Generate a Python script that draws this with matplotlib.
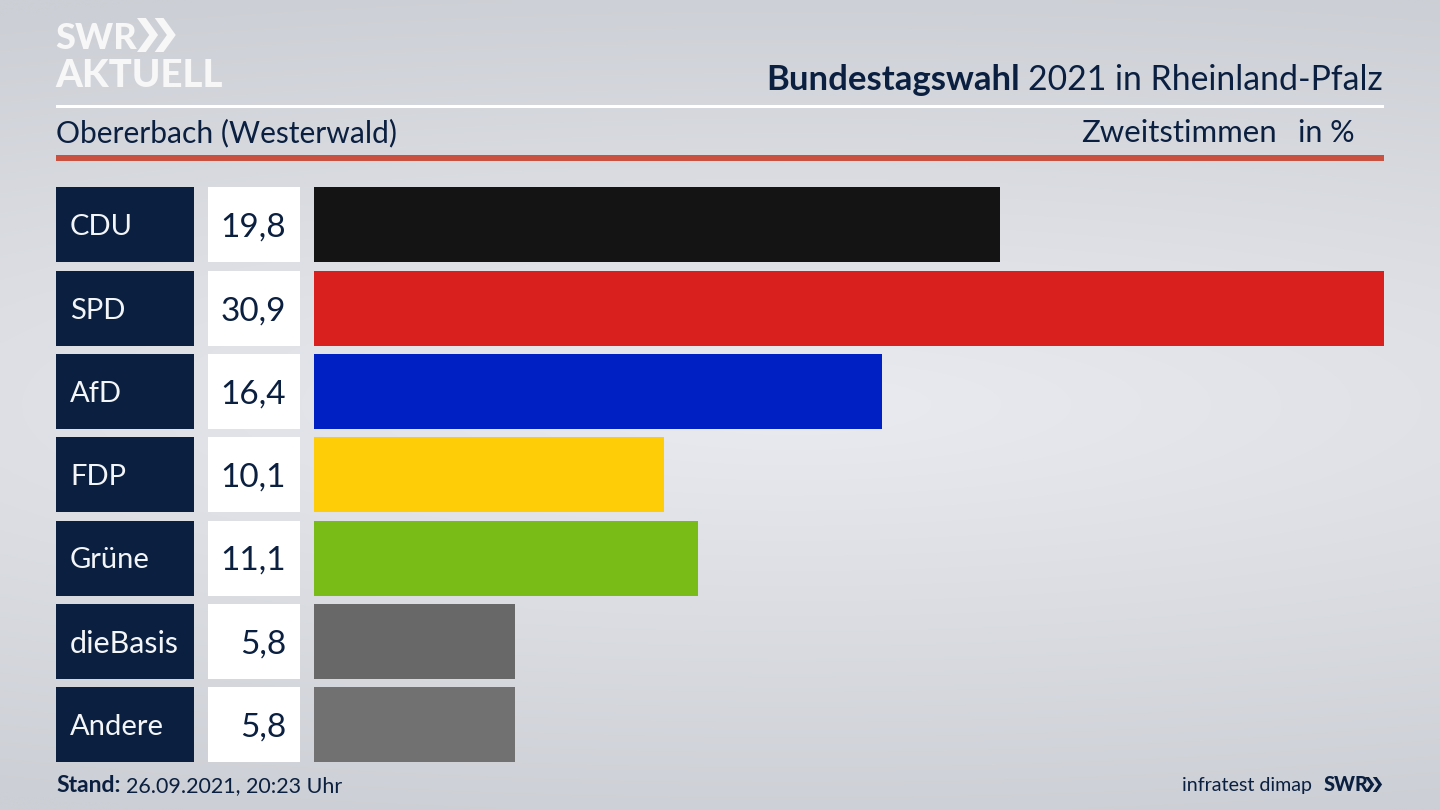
import matplotlib
matplotlib.use('Agg')
import matplotlib.pyplot as plt
import numpy as np
from matplotlib.patches import Rectangle, Polygon

parties = ['CDU', 'SPD', 'AfD', 'FDP', 'Grüne', 'dieBasis', 'Andere']
values = [19.8, 30.9, 16.4, 10.1, 11.1, 5.8, 5.8]
value_labels = ['19,8', '30,9', '16,4', '10,1', '11,1', '5,8', '5,8']
colors = ['#141414', '#d9201f', '#0020c4', '#ffcc08', '#79bc18', '#686868', '#717172']

navy = '#0b2040'
plt.rcParams['font.family'] = ['Lato', 'DejaVu Sans']

W, H = 1440, 810
fig = plt.figure(figsize=(14.4, 8.1), dpi=100)

# background, pixel coordinates
bg = fig.add_axes([0, 0, 1, 1])
bg.set_xlim(0, W)
bg.set_ylim(H, 0)
bg.axis('off')
yy, xx = np.mgrid[0:1:160j, 0:1:280j]
dist = np.sqrt(((xx - 0.55) / 1.3) ** 2 + ((yy - 0.5) / 0.5) ** 2)
shade = np.clip(dist, 0, 1.05) / 1.05
bg_img = np.zeros(shade.shape + (3,))
for i, (light, dark) in enumerate([(234, 204), (235, 207), (240, 213)]):
    bg_img[..., i] = (light + (dark - light) * shade) / 255
bg.imshow(bg_img, extent=(0, W, H, 0), aspect='auto', interpolation='bilinear', zorder=0)

# header
bg.add_patch(Rectangle((56, 104.5), 1328, 3, color='white', lw=0))
bg.add_patch(Rectangle((56, 155), 1328, 5.5, color='#c9513f', lw=0))


def chevrons(x, y, h, color):
    w = h * 0.36
    t = h * 0.26
    for off in (0, t * 2.0):
        bg.add_patch(Polygon([(x + off, y), (x + off + t, y), (x + off + t + w, y + h / 2),
                              (x + off + t, y + h), (x + off, y + h),
                              (x + off + w, y + h / 2)], color=color, lw=0))


bg.text(55, 49, 'SWR', color='#f7f7f8', fontsize=26, fontweight='black', va='baseline')
chevrons(137, 18, 34, '#f7f7f8')
bg.text(55, 87, 'AKTUELL', color='#f7f7f8', fontsize=27.6, fontweight='black', va='baseline')

bg.text(1020, 90, 'Bundestagswahl', color=navy, fontsize=25, fontweight='bold', ha='right', va='baseline')
bg.text(1383, 90, '2021 in Rheinland-Pfalz', color=navy, fontsize=24.3, ha='right', va='baseline')
bg.text(56, 142, 'Obererbach (Westerwald)', color=navy, fontsize=21.6, va='baseline')
bg.text(1277, 142, 'Zweitstimmen', color=navy, fontsize=22.4, ha='right', va='baseline')
bg.text(1355, 142, 'in %', color=navy, fontsize=22, ha='right', va='baseline')

# rows
row_top = 187.3
row_step = 83.3
row_h = 75
for i, (party, label) in enumerate(zip(parties, value_labels)):
    top = row_top + i * row_step
    mid = top + row_h / 2
    bg.add_patch(Rectangle((56, top), 137.5, row_h, color=navy, lw=0))
    bg.add_patch(Rectangle((208, top), 92, row_h, color='white', lw=0))
    size = 22 if party == 'dieBasis' else 21
    bg.text(70, mid, party, color='#f4f5f7', fontsize=size, va='center_baseline')
    bg.text(286, mid, label, color=navy, fontsize=24, ha='right', va='center_baseline')

# bars
ax_top = row_top - (row_step - row_h) / 2
ax_h = row_step * len(parties)
ax = fig.add_axes([314 / W, 1 - (ax_top + ax_h) / H, 1070 / W, ax_h / H])
ax.patch.set_alpha(0)
ax.barh(range(len(parties)), values, height=row_h / row_step, color=colors)
ax.set_xlim(0, 30.9)
ax.set_ylim(len(parties) - 0.5, -0.5)
ax.axis('off')

# footer
bg.text(56, 792, 'Stand:', color=navy, fontsize=16.5, fontweight='bold', va='baseline')
bg.text(126, 792, '26.09.2021, 20:23 Uhr', color=navy, fontsize=15.5, va='baseline')
bg.text(1312, 791, 'infratest dimap', color=navy, fontsize=14.1, ha='right', va='baseline')
bg.text(1324, 791, 'SWR', color=navy, fontsize=14.3, fontweight='black', va='baseline')
chevrons(1365, 777, 15, navy)

fig.savefig('out.png', dpi=100)
